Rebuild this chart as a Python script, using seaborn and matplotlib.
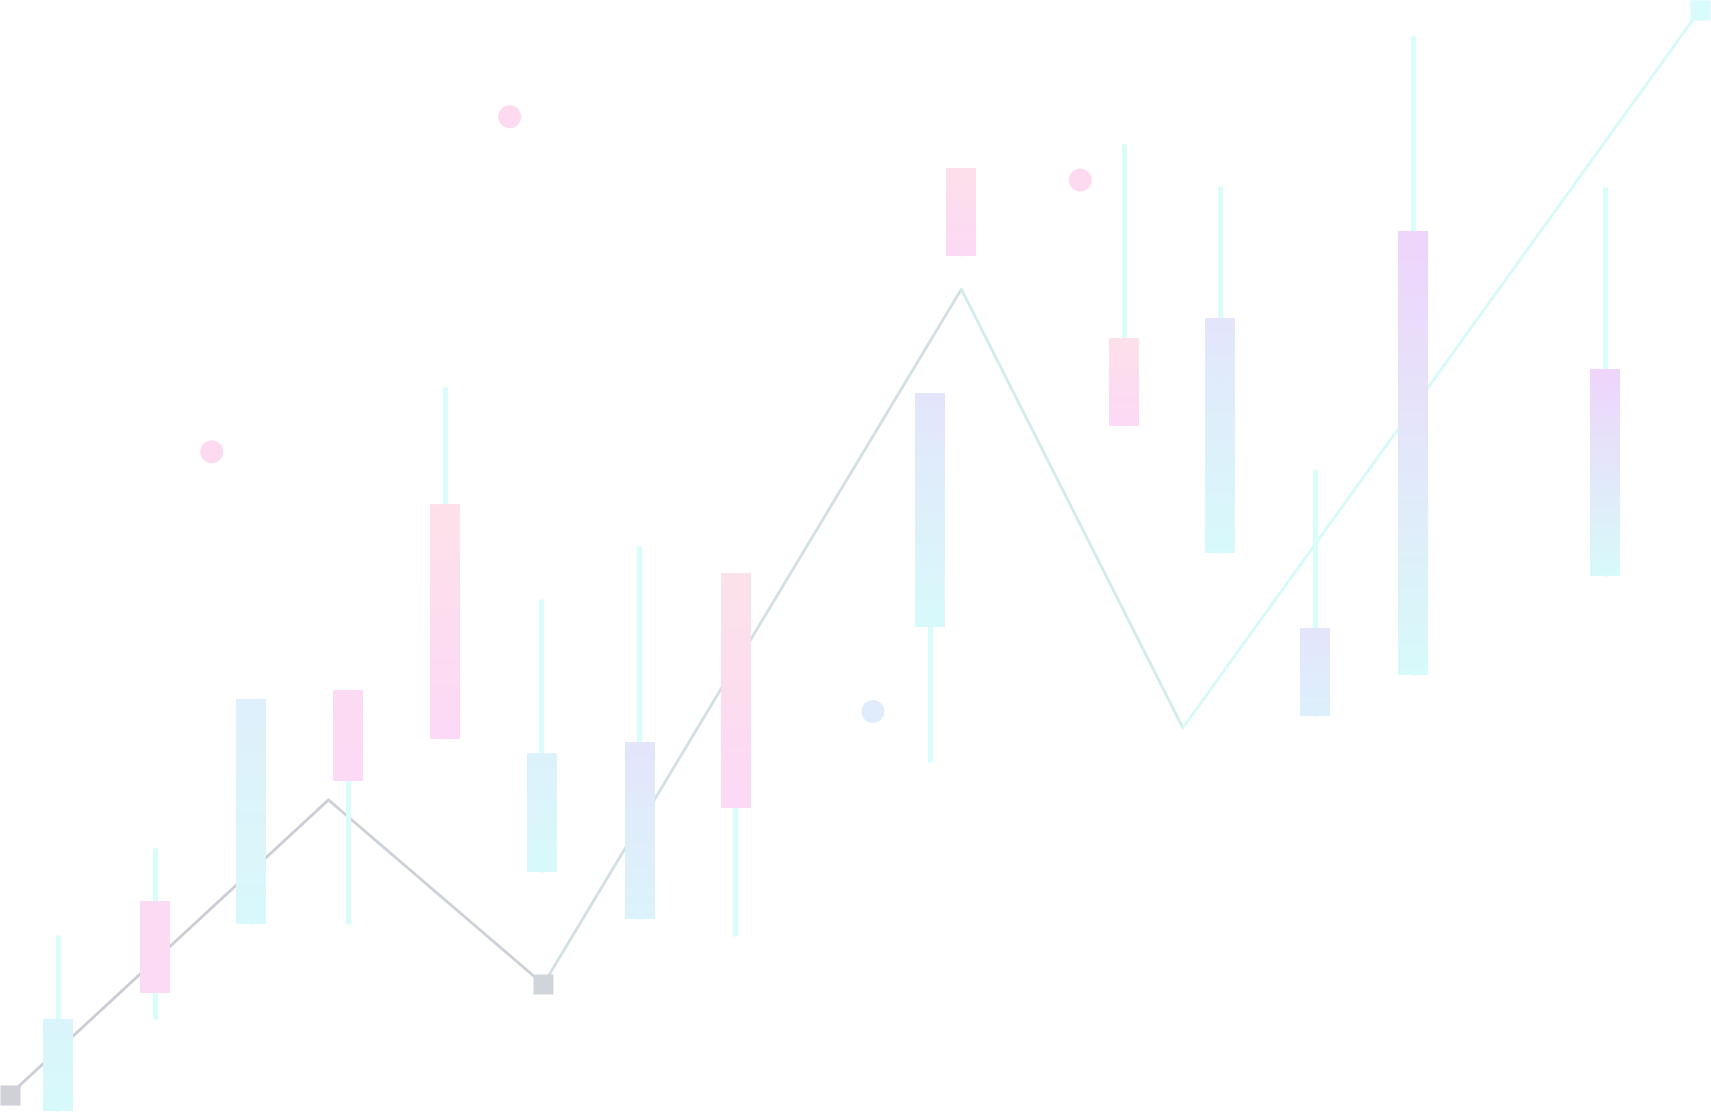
import numpy as np
import pandas as pd
import matplotlib.pyplot as plt
import matplotlib.colors as mcolors
import seaborn as sns

sns.set_theme(style="white")

# candle data (chart units, y up)
cx = [53, 142, 230, 319, 408, 496, 586, 674, 852, 880, 1030, 1118, 1205, 1295, 1471]
body_hi = [85, 193, 378, 386, 557, 329, 339, 494, 658, 864, 709, 727, 443, 806, 680]
body_lo = [1, 109, 172, 303, 342, 220, 177, 279, 444, 784, 629, 512, 363, 400, 491]
wick_hi = [162, 242, 378, 386, 664, 470, 519, 494, 658, 864, 887, 849, 588, 986, 848]
wick_lo = [1, 85, 172, 172, 342, 220, 177, 161, 321, 784, 629, 512, 363, 400, 491]
top_col = ['#daf5fc', '#fcdaf3', '#dff0fc', '#fddaf3', '#fde2ea', '#ddf2fc', '#e4e6fb', '#fde2ea',
           '#e4e6fb', '#fde0ea', '#fde0ea', '#e4e6fb', '#e4e6fb', '#efd5fa', '#efd5fa']
bot_col = ['#d8fafb', '#fcdaf6', '#d9f9fb', '#fcdaf6', '#fcd9f7', '#d8fafb', '#dcf4fc', '#fcd9f6',
           '#d8fafb', '#fcdaf6', '#fcdaf6', '#d8fafb', '#ddf0fc', '#d8fafb', '#d8fafb']

# zigzag line
line_x = [9, 301, 498, 881, 1084, 1558]
line_y = [16, 286, 117, 754, 352, 1010]
line_col = ['#cbcdd6', '#cdd2d9', '#d1e0e4', '#d2ecee', '#d6fafa']
sq_idx = [0, 2, 5]
sq_col = ['#cfd0d8', '#d0d5dc', '#d8fbfb']

# floating dots
dot_x = [194, 467, 990, 800]
dot_y = [605, 912, 854, 367]
dot_col = ['#fddaf0', '#fddaf0', '#fddaf0', '#e0ecfc']

W, H = 1568, 1019
fig = plt.figure(figsize=(17.11, 11.12), dpi=100)
ax = fig.add_axes([0, 0, 1, 1])

# line, segment by segment for the colour fade
for i in range(len(line_x) - 1):
    seg = pd.DataFrame({'x': line_x[i:i + 2], 'y': line_y[i:i + 2]})
    sns.lineplot(data=seg, x='x', y='y', ax=ax, color=line_col[i], lw=2.0,
                 sort=False, estimator=None, zorder=1)

for k, i in enumerate(sq_idx):
    ax.plot(line_x[i], line_y[i], marker='s', ms=14.9, color=sq_col[k], mec='none', zorder=2)

# wicks
for x, lo, hi in zip(cx, wick_lo, wick_hi):
    ax.vlines(x, lo, hi, color='#d8fdfb', lw=3.6, zorder=3)

# bodies with vertical gradient
bw = 27
for x, lo, hi, c1, c2 in zip(cx, body_lo, body_hi, top_col, bot_col):
    a = np.array(mcolors.to_rgb(c2))
    b = np.array(mcolors.to_rgb(c1))
    grad = np.linspace(0, 1, 32)[:, None, None]
    img = a + (b - a) * grad
    img = np.repeat(img, 2, axis=1)
    ax.imshow(img, extent=[x - bw / 2, x + bw / 2, lo, hi], origin='lower',
              aspect='auto', interpolation='bilinear', zorder=4)

dots = pd.DataFrame({'x': dot_x, 'y': dot_y, 'c': dot_col})
sns.scatterplot(data=dots, x='x', y='y', hue='c', palette={c: c for c in set(dot_col)},
                s=272, edgecolor='none', legend=False, ax=ax, zorder=5)

ax.set_xlim(0, W)
ax.set_ylim(0, H)
ax.set_axis_off()
fig.savefig('out.png', dpi=100, facecolor='white')
